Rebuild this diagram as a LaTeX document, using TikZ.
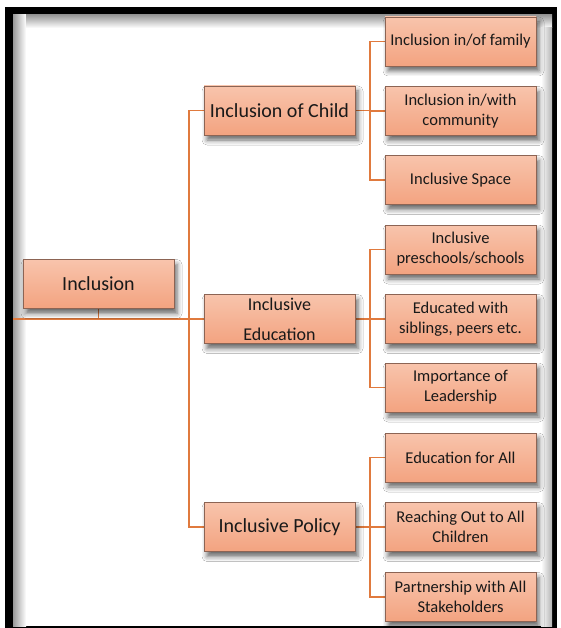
\documentclass[tikz,border=0pt]{standalone}
\usepackage{fontspec}
\setmainfont{Carlito}
\usetikzlibrary{shadows.blur}

\definecolor{boxtop}{RGB}{248,196,172}
\definecolor{boxbot}{RGB}{243,163,128}
\definecolor{boxline}{RGB}{140,100,84}
\definecolor{linkc}{RGB}{224,122,62}
\definecolor{txt}{RGB}{25,25,25}

\begin{document}
\begin{tikzpicture}[x=1pt,y=-1pt,
  box/.style={draw=boxline, line width=0.8pt, top color=boxtop, bottom color=boxbot,
    minimum width=151pt, minimum height=49pt, inner sep=2pt, text=txt, align=center,
    blur shadow={shadow xshift=3pt, shadow yshift=-5pt, shadow blur radius=5pt, shadow opacity=60}},
  big/.style={font=\fontsize{20}{24}\selectfont},
  mid/.style={font=\fontsize{18}{30}\selectfont},
  small/.style={font=\fontsize{16.5}{20}\selectfont},
  link/.style={draw=linkc, line width=1.8pt}]

\useasboundingbox (0,0) rectangle (560,628);

% frame with an inner shade
\fill[white] (0,0) rectangle (560,628);
\fill[black] (5,7) rectangle (557,628);
\fill[white] (13,15) rectangle (552,626);
\shade[left color=black!40, right color=white] (13,15) rectangle (26,626);
\shade[top color=black!40, bottom color=white] (26,15) rectangle (552,28);
\shade[left color=white, right color=black!30] (541,28) rectangle (552,626);

% box centres
\coordinate (root) at (98.5,284);
\coordinate (A) at (279.5,110.5);
\coordinate (B) at (279.5,319);
\coordinate (C) at (279.5,527);
\coordinate (A1) at (460.5,41.5);
\coordinate (A2) at (460.5,111);
\coordinate (A3) at (460.5,180);
\coordinate (B1) at (460.5,249.5);
\coordinate (B2) at (460.5,319);
\coordinate (B3) at (460.5,387.5);
\coordinate (C1) at (460.5,457.5);
\coordinate (C2) at (460.5,527);
\coordinate (C3) at (460.5,597);

% bus positions
\coordinate (L) at (13,319);
\coordinate (busL) at (189,0);
\coordinate (busR) at (370,0);

% connectors (their inner ends are hidden under the boxes)
\draw[link] (root) -- (root |- L);
\draw[link] (L) -- (B);
\draw[link] (A) -- (A -| busL) -- (C -| busL) -- (C);

\draw[link] (A) -- (A -| busR);
\draw[link] (A1) -- (A1 -| busR) -- (A3 -| busR) -- (A3);
\draw[link] (A2) -- (A2 -| busR);

\draw[link] (B) -- (B -| busR);
\draw[link] (B1) -- (B1 -| busR) -- (B3 -| busR) -- (B3);
\draw[link] (B2) -- (B2 -| busR);

\draw[link] (C) -- (C -| busR);
\draw[link] (C1) -- (C1 -| busR) -- (C3 -| busR) -- (C3);
\draw[link] (C2) -- (C2 -| busR);

% root
\node[box, big] (rootbox) at (root) {Inclusion};

% second level
\node[box, big] (Abox) at (A) {Inclusion of Child};
\node[box, mid] (Bbox) at (B) {Inclusive\\Education};
\node[box, big] (Cbox) at (C) {Inclusive Policy};

% third level
\node[box, small] (A1box) at (A1) {Inclusion in/of family};
\node[box, small] (A2box) at (A2) {Inclusion in/with\\community};
\node[box, small] (A3box) at (A3) {Inclusive Space};

\node[box, small] (B1box) at (B1) {Inclusive\\preschools/schools};
\node[box, small] (B2box) at (B2) {Educated with\\siblings, peers etc.};
\node[box, small] (B3box) at (B3) {Importance of\\Leadership};

\node[box, small] (C1box) at (C1) {Education for All};
\node[box, small] (C2box) at (C2) {Reaching Out to All\\Children};
\node[box, small] (C3box) at (C3) {Partnership with All\\Stakeholders};
\end{tikzpicture}
\end{document}
